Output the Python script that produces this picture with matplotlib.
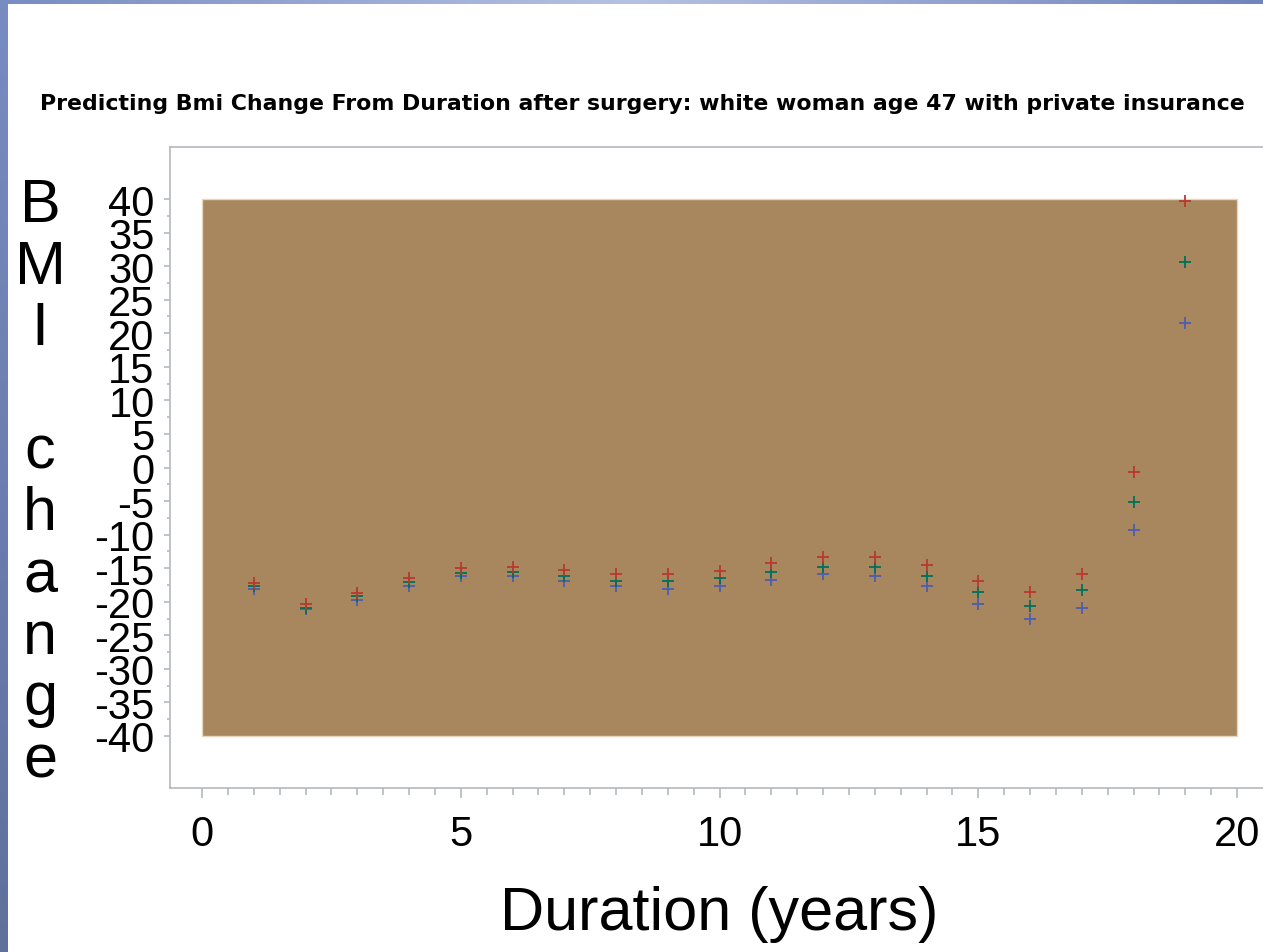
import matplotlib.pyplot as plt
import numpy as np
from matplotlib.patches import Rectangle

# duration (years) and predicted BMI change for three curves
duration = [1, 2, 3, 4, 5, 6, 7, 8, 9, 10, 11, 12, 13, 14, 15, 16, 17, 18, 19]
bmi_red = [-17.2, -20.4, -18.7, -16.5, -15.0, -14.8, -15.2, -15.9, -15.9, -15.4,
           -14.2, -13.3, -13.3, -14.5, -16.9, -18.5, -15.9, -0.6, 39.75]
bmi_green = [-17.65, -20.9, -19.2, -17.1, -15.7, -15.5, -16.2, -16.9, -16.9, -16.4,
             -15.5, -14.8, -14.8, -16.2, -18.5, -20.7, -18.3, -5.1, 30.6]
bmi_blue = [-18.1, -21.1, -19.7, -17.6, -16.2, -16.2, -16.9, -17.6, -18.1, -17.6,
            -16.7, -15.9, -16.2, -17.6, -20.4, -22.6, -20.9, -9.3, 21.6]
yticks = list(range(-40, 45, 5))
xticks = [0, 5, 10, 15, 20]

plt.rcParams['font.family'] = ['Liberation Sans', 'DejaVu Sans']
plt.rcParams['axes.unicode_minus'] = False

W, H = 1263, 953
fig = plt.figure(figsize=(W / 100, H / 100), dpi=100)

# slide-like blue frame on the left and top
bg = fig.add_axes([0, 0, 1, 1], zorder=0)
bg.axis('off')
cols = np.array([[0.47, 0.55, 0.76], [0.71, 0.76, 0.89], [0.44, 0.52, 0.74]])
t = np.linspace(0, 1, 200)
top = np.array([np.interp(t, [0, 0.5, 1], cols[:, c]) for c in range(3)]).T
vert = np.linspace(1.0, 0.8, 100)
img = top[None, :, :] * vert[:, None, None]
bg.imshow(img, aspect='auto', extent=[0, 1, 0, 1])
bg.add_patch(Rectangle((8 / W, 0), 1, 1 - 5 / H, transform=bg.transAxes,
                       facecolor='white', edgecolor='none'))
bg.set_xlim(0, 1)
bg.set_ylim(0, 1)

x0, x1 = -32 / 51.75, 21.0
ax = fig.add_axes([170 / W, 1 - 789 / H, (x1 - x0) * 51.75 / W, 641 / H], zorder=1)
ax.set_xlim(x0, x1)
ax.set_ylim(-47.75, 47.75)

ax.add_patch(Rectangle((0, -40), 20, 80, facecolor='#A8865E', edgecolor='#E6D6BE', lw=1))

ax.plot(duration, bmi_blue, '+', color='#4C5EAE', ms=9, mew=1.3, ls='none')
ax.plot(duration, bmi_green, '+', color='#00705A', ms=9, mew=1.3, ls='none')
ax.plot(duration, bmi_red, '+', color='#B83A2E', ms=9, mew=1.3, ls='none')

for s in ['left', 'bottom', 'top', 'right']:
    ax.spines[s].set_color('#B4B8BC')
    ax.spines[s].set_linewidth(1.2)

ax.set_xticks(xticks)
ax.set_xticks(np.arange(0.5, 20, 0.5), minor=True)
ax.set_yticks(yticks)
ax.set_yticks(np.arange(-37.5, 40, 5), minor=True)
ax.tick_params(axis='both', which='both', color='#B4B8BC', width=1.2, labelsize=30)
ax.tick_params(axis='x', which='major', length=7, pad=12)
ax.tick_params(axis='x', which='minor', length=5)
ax.tick_params(axis='y', which='major', length=4, pad=7)
ax.tick_params(axis='y', which='minor', length=2.5)

fig.text(642 / W, 1 - 110 / H,
         'Predicting Bmi Change From Duration after surgery: white woman age 47 with private insurance',
         ha='center', va='baseline', fontsize=15.8, fontweight='bold', family='DejaVu Sans')
fig.text(719 / W, 1 - 930 / H, 'Duration (years)', ha='center', va='baseline', fontsize=44)
fig.text(40 / W, 1 - 484 / H, '\n'.join('BMI change'), ha='center', va='center',
         multialignment='center', fontsize=44, linespacing=1.107)

plt.savefig('out.png', dpi=100)
